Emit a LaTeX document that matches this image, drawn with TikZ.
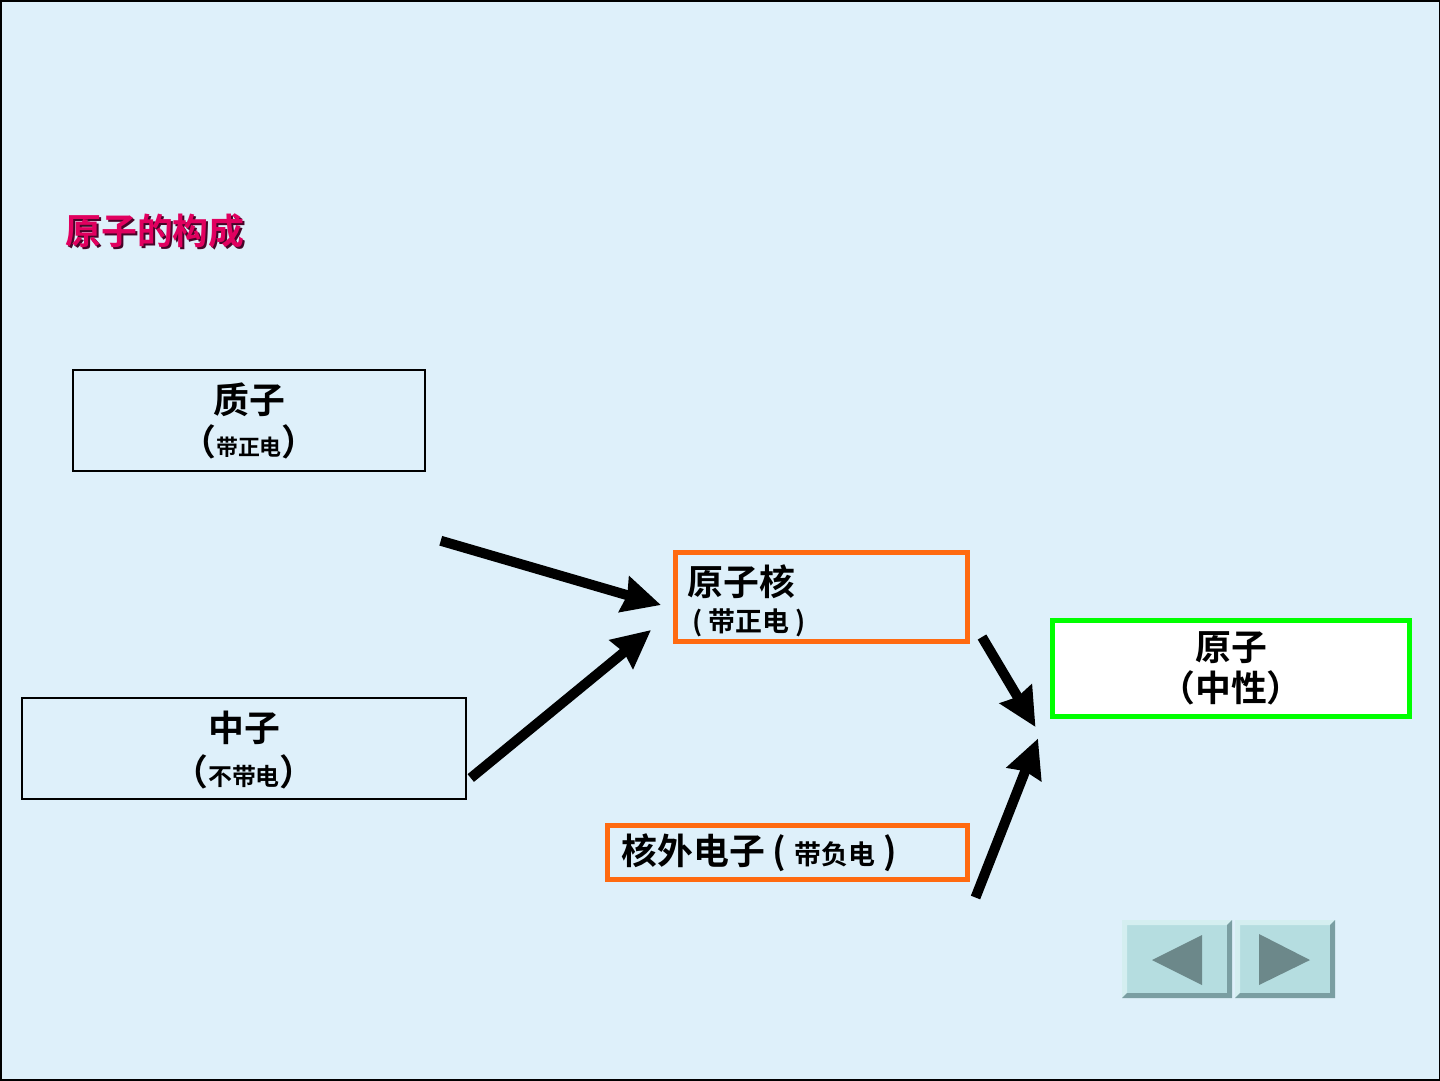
\documentclass[tikz,border=0pt]{standalone}
\usepackage{fontspec}
\setmainfont{Noto Sans CJK SC}[BoldFont={Noto Sans CJK SC Bold}]
\usepackage{xcolor}
\usetikzlibrary{arrows.meta}
\usetikzlibrary{calc}

\definecolor{slidebg}{RGB}{222,240,250}
\definecolor{titlered}{RGB}{225,0,95}
\definecolor{titleshade}{RGB}{70,5,40}
\definecolor{boxorange}{RGB}{255,106,16}
\definecolor{boxgreen}{RGB}{0,255,0}
\definecolor{btnface}{RGB}{181,221,224}
\definecolor{btnlight}{RGB}{212,238,240}
\definecolor{btndark}{RGB}{122,158,162}
\definecolor{btnmark}{RGB}{108,136,138}
\newcommand{\fsz}[1]{\fontsize{#1}{#1}\selectfont}

\begin{document}
\begin{tikzpicture}[x=0.5bp,y=-0.5bp,
        every node/.style={font=\bfseries\fsz{18}},
        plainbox/.style={draw=black,line width=0.75bp,align=center,inner sep=0pt},
        orangebox/.style={draw=boxorange,line width=2.5bp,align=left,inner ysep=0pt},
        greenbox/.style={draw=boxgreen,line width=2.5bp,fill=white,align=center,inner sep=0pt},
        bigarrow/.style={line width=5bp,-{Stealth[length=19bp,width=18bp,inset=1.5bp]}}]
                    \useasboundingbox (0,0) rectangle (1440,1080);
                    \fill[slidebg] (0,0) rectangle (1440,1080);
                    \draw[black,line width=1.5bp] (0,0) rectangle (1440,1080);

                    % title
                    \node[text=titleshade] (titleshadow) at (157,233){原子的构成};
                    \node[text=titlered] (title) at (155,231){原子的构成};

                    % particles
                    \node[plainbox,minimum width=176bp,minimum height=50.5bp] (proton) at (249,420.5)
                        {质子\\[3bp]（{\fsz{11}带正电}）};
                    \node[plainbox,minimum width=222bp,minimum height=50.5bp] (neutron) at (244,748.5)
                        {\rule{0pt}{17bp}中子\\[4bp]（{\fsz{12}不带电}）};
                    \node[orangebox,inner xsep=6bp,text width=134bp,minimum height=44.5bp] (nucleus) at (821.5,597)
                        {\rule{0pt}{19bp}原子核\\{\fsz{13.5}\hspace{2.5bp}(\hspace{3bp}带正电\hspace{3bp})}};
                    \node[orangebox,inner xsep=7bp,text width=166bp,minimum height=27bp] (electron) at (787.5,852.5)
                        {核外电子\hspace{4bp}(\hspace{4bp}{\fsz{13.5}带负电}\hspace{4bp})};
                    \node[greenbox,minimum width=178.5bp,minimum height=48bp] (atom) at (1231,668.5)
                        {原子\\[2.5bp]（中性）};

                    % arrows
                    \draw[bigarrow] ($(proton.south east)+(15,69)$) -- ($(nucleus.west)+(-12,8)$);
                    \draw[bigarrow] ($(neutron.east)+(4,29.5)$) -- ($(nucleus.west)+(-22,33)$);
                    \draw[bigarrow] ($(nucleus.south east)+(12,-7)$) -- ($(atom.west)+(-14.5,58.5)$);
                    \draw[bigarrow] ($(electron.south east)+(5.5,15.5)$) -- ($(atom.west)+(-12,70)$);

                    % buttons
                    \fill[btnface] (1122,920) rectangle (1232,998);
                    \fill[btnlight] (1122,920) -- (1232,920) -- (1227,925) -- (1127,925) -- (1127,993) -- (1122,998) -- cycle;
                    \fill[btndark] (1232,920) -- (1232,998) -- (1122,998) -- (1127,993) -- (1227,993) -- (1227,925) -- cycle;
                    \fill[btnmark] (1152,960) -- (1202,935) -- (1202,985) -- cycle;
                    \fill[btnface] (1235,920) rectangle (1335,998);
                    \fill[btnlight] (1235,920) -- (1335,920) -- (1330,925) -- (1240,925) -- (1240,993) -- (1235,998) -- cycle;
                    \fill[btndark] (1335,920) -- (1335,998) -- (1235,998) -- (1240,993) -- (1330,993) -- (1330,925) -- cycle;
                    \fill[btnmark] (1259,934) -- (1310,960) -- (1259,985) -- cycle;
                \end{tikzpicture}
\end{document}
